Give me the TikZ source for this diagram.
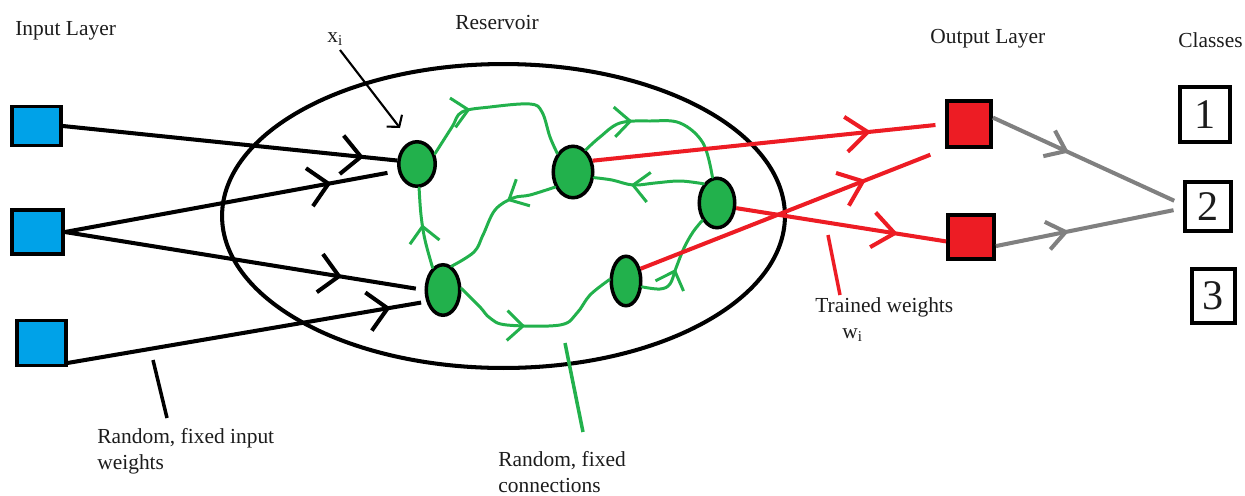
\documentclass[tikz,border=0pt]{standalone}
\usepackage{fontspec}
\setmainfont{Liberation Serif}
\usetikzlibrary{arrows.meta,decorations.markings,shapes.geometric}

\definecolor{paintblue}{RGB}{0,162,232}
\definecolor{paintred}{RGB}{237,28,36}
\definecolor{paintgreen}{RGB}{34,177,76}
\definecolor{linkgray}{RGB}{128,128,128}
\definecolor{inkdark}{RGB}{28,28,28}

\tikzset{
  blkv/.tip={Straight Barb[length=11pt,width=22pt]},
  redv/.tip={Straight Barb[length=12.5pt,width=20pt]},
  grnv/.tip={Straight Barb[length=9pt,width=17pt]},
  gryv/.tip={Straight Barb[length=10.5pt,width=16pt]},
  midtip/.style 2 args={postaction={decorate,
      decoration={markings, mark=at position #1 with {\arrow{#2}}}}},
  txt/.style={font=\fontsize{12.2}{14.8}\selectfont, text=inkdark, inner sep=0pt},
  insq/.style={draw=black, fill=paintblue, line width=2.2pt, inner sep=0pt},
  outsq/.style={draw=black, fill=paintred, line width=2.2pt, inner sep=0pt},
  neuron/.style={ellipse, draw=black, fill=paintgreen, line width=2pt, inner sep=0pt},
  classbox/.style={draw=black, line width=2pt, inner sep=0pt, text=inkdark,
      font=\fontsize{24}{28}\selectfont},
  inwire/.style={draw=black, line width=2.3pt},
  outwire/.style={draw=paintred, line width=2.3pt},
  clswire/.style={draw=linkgray, line width=2.3pt},
  resline/.style={draw=paintgreen, line width=1.7pt, line cap=round, line join=round},
}

\begin{document}
\begin{tikzpicture}[x=0.02cm, y=-0.02cm]
\useasboundingbox (0,0) rectangle (1245,495);

% reservoir boundary
\draw[line width=2.3pt] (503.5,216) ellipse [x radius=5.63cm, y radius=3.04cm];

% input layer
\node[insq, minimum width=0.98cm, minimum height=0.78cm] (I1) at (36.5,126) {};
\node[insq, minimum width=1.02cm, minimum height=0.88cm] (I2) at (37.5,232) {};
\node[insq, minimum width=0.98cm, minimum height=0.90cm] (I3) at (41.5,343) {};

% reservoir neurons
\node[neuron, minimum width=0.73cm, minimum height=0.89cm] (N1) at (417,164) {};
\node[neuron, minimum width=0.79cm, minimum height=1.03cm] (N2) at (573,172) {};
\node[neuron, minimum width=0.71cm, minimum height=0.99cm] (N3) at (717,203) {};
\node[neuron, minimum width=0.67cm, minimum height=1.01cm] (N4) at (443,290) {};
\node[neuron, minimum width=0.59cm, minimum height=0.99cm] (N5) at (626,281) {};

% output layer
\node[outsq, minimum width=0.88cm, minimum height=0.92cm] (O1) at (969,124) {};
\node[outsq, minimum width=0.92cm, minimum height=0.88cm] (O2) at (971,237) {};

% classes
\node[classbox, minimum width=1.01cm, minimum height=1.11cm] (C1) at (1205,114.5) {1};
\node[classbox, minimum width=0.93cm, minimum height=0.99cm] (C2) at (1208,206.5) {2};
\node[classbox, minimum width=0.87cm, minimum height=1.09cm] (C3) at (1213.5,296) {3};

% input weights
\draw[inwire, midtip={0.9}{blkv}] (I1.east) -- (N1.170);
\draw[inwire, midtip={0.8}{blkv}, shorten >=6pt] (I2.east) -- (N1.200);
\draw[inwire, midtip={0.77}{blkv}, shorten >=5pt] (I2.east) -- (N4.west);
\draw[inwire, midtip={0.9}{blkv}, shorten >=3pt] (I3.-37) -- (N4.215);

% reservoir connections
\draw[resline, midtip={0.33}{grnv}] plot[smooth, tension=0.6] coordinates
  {(N1.30) (452,127) (462,112) (490,107) (530,104) (542,112) (550,137) (N2.130)};
\draw[resline, midtip={0.33}{grnv}] plot[smooth, tension=0.6] coordinates
  {(N2.60) (600,137) (620,123) (650,121) (680,123) (703,143) (N3.100)};
\draw[resline, midtip={0.66}{grnv}] plot[smooth, tension=0.6] coordinates
  {(N3.125) (680,181) (655,183) (633,185) (612,180) (N2.-15)};
\draw[resline, midtip={0.36}{grnv}] plot[smooth, tension=0.6] coordinates
  {(N2.220) (530,195) (513,198) (495,210) (483,235) (474,252) (N4.70)};
\draw[resline, midtip={0.55}{grnv}] plot[smooth, tension=0.6] coordinates
  {(N4.115) (425,240) (421,215) (N1.-85)};
\draw[resline, midtip={0.43}{grnv}] plot[smooth, tension=0.6] coordinates
  {(N4.5) (480,307) (490,318) (507,325) (560,325) (577,313) (590,295) (N5.175)};
\draw[resline, midtip={0.45}{grnv}] plot[smooth, tension=0.6] coordinates
  {(N5.-20) (660,289) (670,284) (676,268) (684,248) (693,232) (N3.230)};

% trained output weights
\draw[outwire, midtip={0.79}{redv}, shorten >=5.5pt] (N2.30) -- (O1.west);
\draw[outwire, midtip={0.74}{redv}, shorten >=9pt] (N5.40) -- (O1.south west);
\draw[outwire, midtip={0.77}{redv}] (N3.-15) -- (O2.190);

% class read-out
\draw[clswire, midtip={0.4}{gryv}, shorten >=5.5pt] (O1.15) -- (C2.176);
\draw[clswire, midtip={0.39}{gryv}, shorten >=5.5pt] (O2.-20) -- (C2.184);

% labels
\node[txt, anchor=base west] (tIn) at (15,35) {Input Layer};
\node[txt, anchor=base west] (tRes) at (455,29) {Reservoir};
\node[txt, anchor=base west] (tOut) at (930,43) {Output Layer};
\node[txt, anchor=base west] (tCls) at (1178,47) {Classes};
\node[txt, anchor=base west] (tX) at (327,42) {x\textsubscript{i}};

\coordinate (xStart) at (340,50);
\coordinate (xTip) at (400,128);
\draw[line width=1.2pt, -{Straight Barb[length=4.5pt,width=11pt]}] (xStart) -- (xTip);

\node[txt, anchor=north west, align=left] (tInW) at (97,428)
  {Random, fixed input\\weights};
\coordinate (inTickA) at (153,360);
\coordinate (inTickB) at (167,418);
\draw[line width=2pt] (inTickA) -- (inTickB);

\node[txt, anchor=north west, align=left] (tConn) at (498,451)
  {Random, fixed\\connections};
\coordinate (gTickA) at (565,343);
\coordinate (gTickB) at (583,432);
\draw[draw=paintgreen, line width=2pt] (gTickA) -- (gTickB);

\node[txt, anchor=base west] (tTrain) at (815,312) {Trained weights};
\node[txt, anchor=base west] (tW) at (842,338) {w\textsubscript{i}};
\coordinate (rTickA) at (828,235);
\coordinate (rTickB) at (840,295);
\draw[draw=paintred, line width=2pt] (rTickA) -- (rTickB);
\end{tikzpicture}
\end{document}
